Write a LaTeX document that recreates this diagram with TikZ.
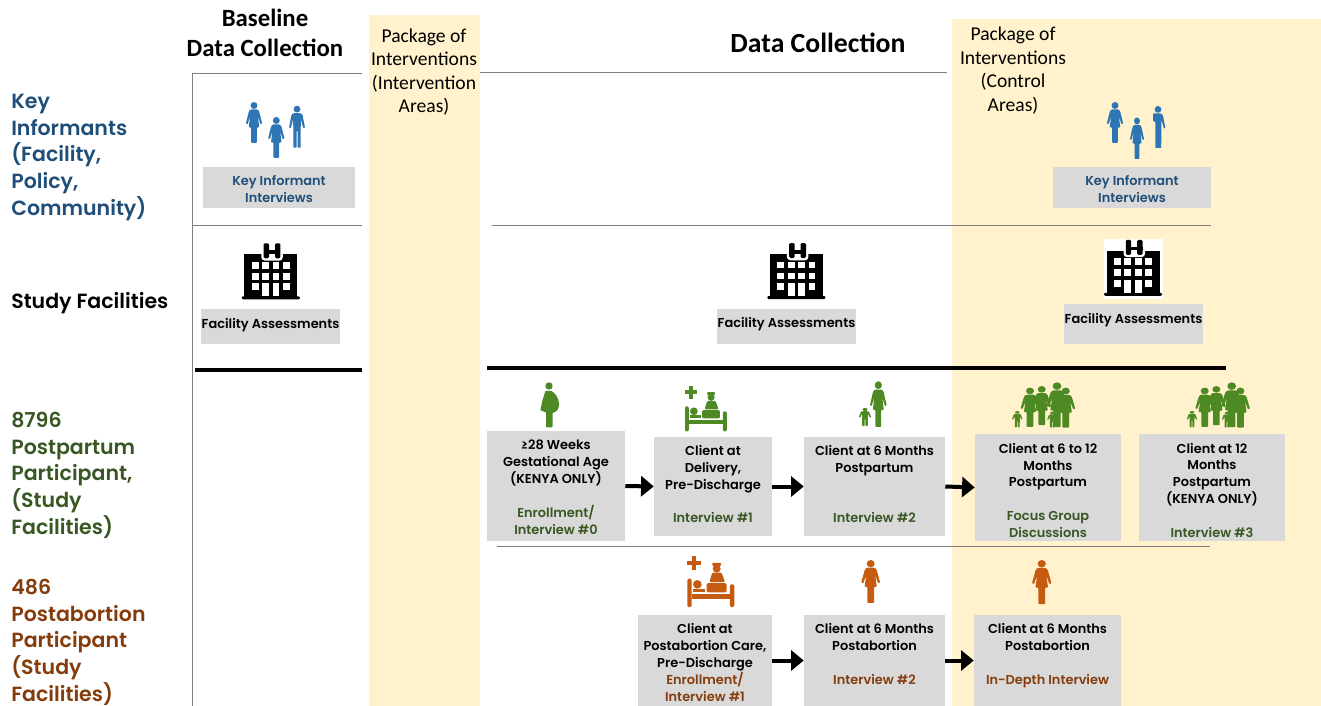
\documentclass[tikz,border=0pt]{standalone}
\usepackage{fontspec}
\setmainfont{Carlito}
\newfontfamily\gothic{Poppins SemiBold}
\usetikzlibrary{arrows.meta}
\definecolor{band}{HTML}{FFF2CC}
\definecolor{gbox}{HTML}{D9D9D9}
\definecolor{rulegray}{HTML}{7F7F7F}
\definecolor{kiblue}{HTML}{1F4E79}
\definecolor{icblue}{HTML}{2E75B6}
\definecolor{ppgreen}{HTML}{385723}
\definecolor{icgreen}{HTML}{4E8A23}
\definecolor{pabrown}{HTML}{843C0C}
\definecolor{icorange}{HTML}{C55A11}
\newcommand{\pxfont}[2]{\fontsize{#1}{#2}\selectfont}
\newcommand{\Woman}[5][]{% x, y(top), scale, color
 \begin{scope}[shift={(#2,#3)},scale=#4,#1]
 \fill[#5] (0,3.4) circle (3.4);
 \fill[#5,rounded corners=0.6pt] (-3.2,7.2) -- (3.2,7.2) -- (5,9) -- (8,21) -- (6.4,22) -- (3.8,14) -- (5.2,25) -- (2.8,25) -- (2.8,40) -- (-2.8,40) -- (-2.8,25) -- (-5.2,25) -- (-3.8,14) -- (-6.4,22) -- (-8,21) -- (-5,9) -- cycle;
 \end{scope}}
\newcommand{\Man}[5][]{%
 \begin{scope}[shift={(#2,#3)},scale=#4,#1]
 \fill[#5] (0,3.4) circle (3.4);
 \fill[#5,rounded corners=0.6pt] (-3.5,7.5) -- (3.5,7.5) -- (5.5,9) -- (8,22) -- (6.3,22.6) -- (3.8,13) -- (3.6,42) -- (0.5,42) -- (0.5,25) -- (-0.5,25) -- (-0.5,42) -- (-3.6,42) -- (-3.8,13) -- (-6.3,22.6) -- (-8,22) -- (-5.5,9) -- cycle;
 \end{scope}}
\newcommand{\HalfMan}[4]{%
 \begin{scope}[shift={(#1,#2)},scale=#3]
 \fill[#4] (0,3.4) circle (3.4);
 \fill[#4,rounded corners=0.5pt] (-5,7.5) -- (3,7.5) -- (4.8,9) -- (7.4,22) -- (6,22.6) -- (3.4,14) -- (3.2,42) -- (-2.6,42) -- (-2.6,16) -- (-5,15) -- cycle;
 \end{scope}}
\newcommand{\Pregnant}[3]{%
 \begin{scope}[shift={(#1,#2)}]
 \fill[#3] (0,3.7) circle (3.7);
 \fill[#3,rounded corners=0.5pt] (-3.5,8.5) -- (2,8.5) .. controls (5,10) and (10,15) .. (10,22) .. controls (10,27) and (7,30) .. (3.5,30.5) -- (3.5,45) -- (-3,45) -- (-3,30) -- (-8.7,28) -- (-6.5,18) -- cycle;
 \end{scope}}
\newcommand{\Bed}[4]{%
 \begin{scope}[shift={(#1,#2)},scale=#3]
 \fill[#4] (-.3,3.9) rectangle (12.7,7.9);
 \fill[#4] (4.2,-.6) rectangle (8.2,12.4);
 \fill[#4] (27.2,11) circle (3.7);
 \fill[#4,rounded corners=.6pt] (23.1,5.6) rectangle (31.2,8.6);
 \fill[#4,rounded corners=.8pt] (20.4,23.5) -- (23.1,14.8) -- (31.8,14.8) -- (34.9,23.5) -- cycle;
 \fill[#4,rounded corners=1pt] (0,20.4) rectangle (4,46.6);
 \fill[#4,rounded corners=1pt] (39.5,25.6) rectangle (43.5,46.6);
 \fill[#4] (4,34.3) rectangle (39.5,38.9);
 \fill[#4,rounded corners=1pt] (17.9,24.4) rectangle (36.4,33);
 \fill[#4] (9.3,25.6) circle (4);
 \fill[#4] (5.5,29.9) rectangle (16.4,33);
 \end{scope}}
\newcommand{\Family}[3]{%
 \begin{scope}[shift={(#1,#2)}]
 \Man[xscale=1.7]{6.3}{28.7}{.39}{#3}
 \Man[xscale=1.7]{41.3}{29.3}{.38}{#3}
 \Woman[xscale=1.2]{19}{5.3}{.98}{#3}
 \Woman[xscale=1.2]{30.7}{3.7}{.98}{#3}
 \Woman[xscale=1.15]{46}{0}{1.12}{#3}
 \Woman[xscale=1.2]{54.7}{5.3}{1}{#3}
 \end{scope}}
\newcommand{\Hospital}[2]{% center x, top y
 \begin{scope}[shift={(#1,#2)}]
 \fill[black] (-26.5,10.7) rectangle (26.5,54);
 \fill[black,rounded corners=.8pt] (-29,53) rectangle (29,56);
 \fill[white,rounded corners=2.5pt] (-9.5,8) rectangle (12,17.3);
 \fill[black,rounded corners=1pt] (-7.2,0) rectangle (-1.8,15);
 \fill[black,rounded corners=1pt] (4.2,0) rectangle (9.6,15);
 \fill[black] (-7.2,6.8) rectangle (9.6,10.6);
 \foreach \yy in {18.5,29.5}
 \foreach \xx in {-19,-8.6,1.8,12.2}
 \fill[white] (\xx,\yy) rectangle ++(6.7,6.7);
 \fill[white] (-19,40) rectangle ++(6.7,6.7);
 \fill[white] (12.2,40) rectangle ++(6.7,6.7);
 \fill[white] (-8.6,40) rectangle ++(6.7,13);
 \fill[white] (1.8,40) rectangle ++(6.7,13);
 \end{scope}}
\newcommand{\Grey}[7][0]{% raise, name, x1,y1,x2,y2, text
 \node[boxnode,minimum width={(#5-#3)*0.75pt},minimum height={(#6-#4)*0.75pt}] (#2) at ({(#3+#5)/2},{(#4+#6)/2}) {\raisebox{\dimexpr#1pt-3.9pt\relax}[0pt][0pt]{\begin{tabular}{@{}c@{}}#7\end{tabular}}};}
\tikzset{
 x=0.75pt,y=-0.75pt,
 boxnode/.style={fill=gbox,inner sep=0pt,font=\gothic\pxfont{9.7}{12.6},align=center,text=black},
 leftlabel/.style={anchor=north west,inner sep=0pt,align=left,font=\gothic\pxfont{15.4}{20}},
 title/.style={inner sep=0pt,align=center,font=\bfseries\pxfont{18.6}{22.5}},
 package/.style={inner sep=0pt,align=center,font=\pxfont{14.7}{17.6}},
 thinrule/.style={draw=rulegray,line width=0.7pt},
 thickrule/.style={draw=black,line width=2.7pt},
 flow/.style={draw=black,line width=3pt,-{Triangle[length=9.5pt,width=15pt]}},
}
\begin{document}
\begin{tikzpicture}
\useasboundingbox (0,0) rectangle (1321,706);
% bands
\fill[band] (369,15) rectangle (480,706);
\fill[band] (952,19) rectangle (1321,706);
% rules
\coordinate (v1) at (192,73); \coordinate (v2) at (192,706);
\draw[thinrule] (v1) -- (v2);
\coordinate (a1) at (192,73); \coordinate (a2) at (362,73);
\draw[thinrule] (a1) -- (a2);
\coordinate (b1) at (480,72.5); \coordinate (b2) at (947,72.5);
\draw[thinrule] (b1) -- (b2);
\coordinate (c1) at (192,225); \coordinate (c2) at (362,225);
\draw[thinrule] (c1) -- (c2);
\coordinate (d1) at (492,225); \coordinate (d2) at (1211,225);
\draw[thinrule] (d1) -- (d2);
\coordinate (e1) at (195,370); \coordinate (e2) at (362,370);
\draw[thickrule] (e1) -- (e2);
\coordinate (f1) at (487,368); \coordinate (f2) at (1226,368);
\draw[thickrule] (f1) -- (f2);
\coordinate (g1) at (497,546); \coordinate (g2) at (1210,546);
\draw[thinrule] (g1) -- (g2);
% titles
\node[title] (t1) at (265,33) {Baseline\\Data Collection};
\node[title,font=\bfseries\pxfont{20.8}{24}] (t2) at (818,43) {Data Collection};
\node[package] (p1) at (424,72) {Package of\\Interventions\\(Intervention\\Areas)};
\node[package] (p2) at (1013,70.5) {Package of\\Interventions\\(Control\\Areas)};
% left labels
\node[leftlabel,text=kiblue] (l1) at (11,94) {Key\\Informants\\(Facility,\\Policy,\\Community)};
\node[leftlabel,text=black] (l2) at (11,292) {Study Facilities};
\node[leftlabel,text=ppgreen] (l3) at (11,412) {8796\\Postpartum\\Participant,\\(Study\\Facilities)};
\node[leftlabel,text=pabrown] (l4) at (11,579) {486\\Postabortion\\Participant\\(Study\\Facilities)};
% icons
\Woman{254}{102}{1.02}{icblue}
\Woman{276.3}{117}{1.02}{icblue}
\Man{297}{105.7}{1}{icblue}
\Woman{1115}{102}{1.02}{icblue}
\Woman[xscale=.85]{1137}{117.4}{1.04}{icblue}
\HalfMan{1158}{106}{1}{icblue}
\Hospital{270.8}{243.3}
\Hospital{796.4}{243}
\fill[white] (1104,238.8) rectangle (1163,298.7);
\Hospital{1133}{239.8}
\Pregnant{549}{382.3}{icgreen}
\Bed{685}{386.7}{.96}{icgreen}
\Woman[xscale=.92]{878.3}{381.3}{1.14}{icgreen}
\Man[xscale=1.8]{865}{408}{.43}{icgreen}
\Family{1011}{382.3}{icgreen}
\Family{1185.7}{382.3}{icgreen}
\Bed{687.3}{556.7}{1.08}{icorange}
\Woman[xscale=1.1]{870.7}{560}{1.07}{icorange}
\Woman[xscale=1.1]{1041.7}{560}{1.1}{icorange}
% boxes
\newcommand{\bl}[1]{\textcolor{kiblue}{#1}}
\newcommand{\gr}[1]{\textcolor{ppgreen}{#1}}
\newcommand{\br}[1]{\textcolor{pabrown}{#1}}
\Grey[-1.1]{k1}{203}{167}{355}{208}{\bl{Key Informant}\\\bl{Interviews}}
\Grey[-0.75]{k2}{1053}{167}{1211}{208}{\bl{Key Informant}\\\bl{Interviews}}
\Grey[2.6]{fa1}{201}{309}{340}{344}{Facility Assessments}
\Grey[3.4]{fa2}{717}{309}{856}{344}{Facility Assessments}
\Grey[4.5]{fa3}{1064}{304}{1203}{344}{Facility Assessments}
\Grey[-0.75]{A}{487}{431}{625}{541}{≥28 Weeks\\Gestational Age\\(KENYA ONLY)\\[12.6pt]\gr{Enrollment/}\\\gr{Interview \#0}}
\Grey[1.9]{B}{654}{437}{772}{536}{Client at\\Delivery,\\Pre-Discharge\\[12.6pt]\gr{Interview \#1}}
\Grey[1.9]{C}{804}{437}{945}{536}{Client at 6 Months\\Postpartum\\[25.2pt]\gr{Interview \#2}}
\Grey[-1.9]{D}{975}{434}{1121}{541}{Client at 6 to 12\\Months\\Postpartum\\[12.6pt]\gr{Focus Group}\\\gr{Discussions}}
\Grey[-1.9]{E}{1139}{434}{1285}{541}{Client at 12\\Months\\Postpartum\\(KENYA ONLY)\\[12.6pt]\gr{Interview \#3}}
\Grey[-1.5]{F}{638}{615}{772}{706}{Client at\\Postabortion Care,\\Pre-Discharge\\\br{Enrollment/}\\\br{Interview \#1}}
\Grey[4.9]{G}{804}{615}{945}{706}{Client at 6 Months\\Postabortion\\[12.6pt]\br{Interview \#2}}
\Grey[4.9]{H}{974}{615}{1121}{706}{Client at 6 Months\\Postabortion\\[12.6pt]\br{In-Depth Interview}}
% connectors
\draw[flow] (A.east) -- (B.west);
\draw[flow] (B.east) -- (C.west);
\draw[flow] (C.east) -- (D.west);
\draw[flow] (F.east) -- (G.west);
\draw[flow] (G.east) -- (H.west);
\end{tikzpicture}
\end{document}
